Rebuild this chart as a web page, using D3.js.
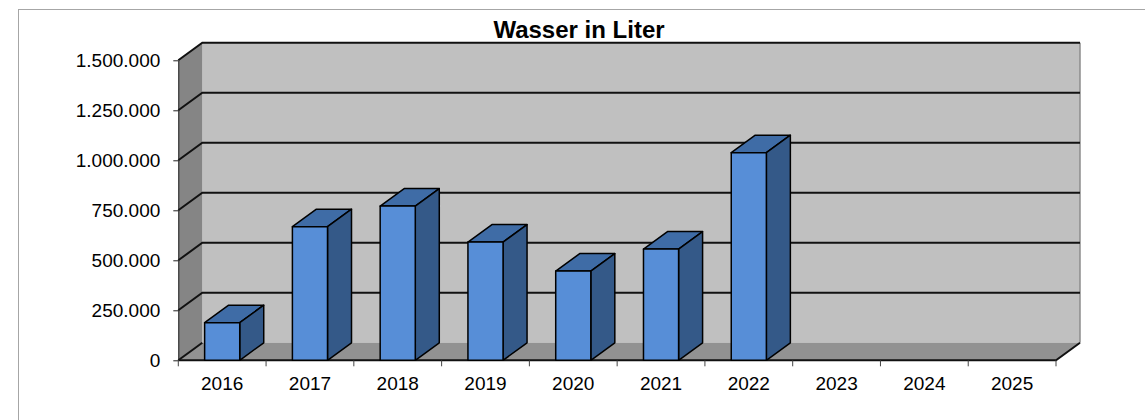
<!DOCTYPE html>
<html>
<head>
<meta charset="utf-8">
<script src="https://cdn.jsdelivr.net/npm/d3@7"></script>
<style>
  body { margin: 0; background: #fff; }
  svg { display: block; font-family: "Liberation Sans", Arial, sans-serif; }
</style>
</head>
<body>
<svg id="chart" width="1145" height="420"></svg>
<script>
// chart data
var years = ["2016", "2017", "2018", "2019", "2020", "2021", "2022", "2023", "2024", "2025"];
var liters = [188000, 668000, 771000, 591000, 446000, 556000, 1038000, null, null, null];
var yTicks = [0, 250000, 500000, 750000, 1000000, 1250000, 1500000];
var title = "Wasser in Liter";

var svg = d3.select("#chart");
var depthX = 24, depthY = -17.5;

var de = d3.formatLocale({ decimal: ",", thousands: ".", grouping: [3], currency: ["", " €"] });
var fmt = de.format(",d");

var x = d3.scaleBand().domain(years).range([178.3, 1056]).padding(0);
var y = d3.scaleLinear().domain([0, 1500000]).range([360.3, 60.3]);

var x0 = x.range()[0], x1 = x.range()[1];
var yTop = y(1500000), yBot = y(0);

// outer frame
svg.append("rect")
  .attr("x", 18.5).attr("y", 9.5)
  .attr("width", 1200).attr("height", 500)
  .attr("fill", "none").attr("stroke", "#a6a6a6").attr("stroke-width", 1);

// title
svg.append("text")
  .attr("x", 579).attr("y", 38.3)
  .attr("text-anchor", "middle")
  .style("font-size", "24px").style("font-weight", "bold")
  .text(title);

// walls
var walls = svg.append("g");
// back wall
walls.append("rect")
  .attr("x", x0 + depthX).attr("y", yTop + depthY)
  .attr("width", x1 - x0).attr("height", yBot - yTop)
  .attr("fill", "#c0c0c0");
walls.append("line")
  .attr("x1", x1 + depthX).attr("x2", x1 + depthX)
  .attr("y1", yTop + depthY).attr("y2", yBot + depthY)
  .attr("stroke", "#8c8c8c").attr("stroke-width", 1.5);
// left side wall
walls.append("polygon")
  .attr("points", [[x0, yTop], [x0 + depthX, yTop + depthY], [x0 + depthX, yBot + depthY], [x0, yBot]].join(" "))
  .attr("fill", "#858585");
// floor
walls.append("polygon")
  .attr("points", [[x0, yBot], [x1, yBot], [x1 + depthX, yBot + depthY], [x0 + depthX, yBot + depthY]].join(" "))
  .attr("fill", "#929292");

// gridlines on left wall and back wall
var grid = svg.append("g").attr("stroke", "#111").attr("stroke-width", 2).attr("fill", "none");
grid.selectAll("path.grid")
  .data(yTicks)
  .enter().append("path")
  .attr("class", "grid")
  .attr("d", function(d) {
    var yy = y(d);
    if (d === 0) return "M" + x0 + "," + yy + "L" + (x0 + depthX) + "," + (yy + depthY);
    return "M" + x0 + "," + yy + "L" + (x0 + depthX) + "," + (yy + depthY) + "L" + (x1 + depthX) + "," + (yy + depthY);
  });

// floor front and right edges
svg.append("path")
  .attr("d", "M" + x0 + "," + yBot + "L" + x1 + "," + yBot + "L" + (x1 + depthX) + "," + (yBot + depthY))
  .attr("fill", "none").attr("stroke", "#111").attr("stroke-width", 2);

// bars
var barW = x.bandwidth() * 0.4;
var bars = svg.append("g")
  .selectAll("g.bar")
  .data(years.map(function(d, i) { return { year: d, value: liters[i] }; }).filter(function(d) { return d.value != null; }))
  .enter().append("g")
  .attr("class", "bar")
  .attr("stroke", "#000").attr("stroke-width", 1.5).attr("stroke-linejoin", "round");

bars.append("polygon") // top
  .attr("fill", "#3f6ca6")
  .attr("points", function(d) {
    var l = x(d.year) + (x.bandwidth() - barW) / 2, r = l + barW, t = y(d.value);
    return [[l, t], [r, t], [r + depthX, t + depthY], [l + depthX, t + depthY]].join(" ");
  });
bars.append("polygon") // side
  .attr("fill", "#345988")
  .attr("points", function(d) {
    var r = x(d.year) + (x.bandwidth() + barW) / 2, t = y(d.value);
    return [[r, t], [r + depthX, t + depthY], [r + depthX, yBot + depthY], [r, yBot]].join(" ");
  });
bars.append("rect") // front
  .attr("fill", "#578ed7")
  .attr("x", function(d) { return x(d.year) + (x.bandwidth() - barW) / 2; })
  .attr("y", function(d) { return y(d.value); })
  .attr("width", barW)
  .attr("height", function(d) { return yBot - y(d.value); });

// y axis
var yAxis = svg.append("g")
  .attr("transform", "translate(" + x0 + ",0)")
  .call(d3.axisLeft(y).tickValues(yTicks).tickFormat(fmt).tickSize(5).tickSizeOuter(0).tickPadding(13));
yAxis.select(".domain").attr("stroke", "#222");
yAxis.selectAll(".tick line").attr("stroke", "#222");
yAxis.selectAll("text")
  .attr("fill", "#000")
  .style("font-size", "19px")
  .style("font-family", "Liberation Sans, Arial, sans-serif");

// x axis: labels at band centres, ticks at band edges
var xAxis = svg.append("g")
  .attr("transform", "translate(0," + yBot + ")")
  .call(d3.axisBottom(x).tickSize(0).tickPadding(0));
xAxis.select(".domain").remove();
xAxis.selectAll("text")
  .attr("y", 30).attr("dy", null)
  .attr("fill", "#000")
  .style("font-size", "19px")
  .style("font-family", "Liberation Sans, Arial, sans-serif");

svg.append("g")
  .selectAll("line")
  .data(years.map(function(d) { return x(d); }).concat([x1]))
  .enter().append("line")
  .attr("x1", function(d) { return d; }).attr("x2", function(d) { return d; })
  .attr("y1", yBot).attr("y2", yBot + 6)
  .attr("stroke", "#444").attr("stroke-width", 1);
</script>
</body>
</html>
